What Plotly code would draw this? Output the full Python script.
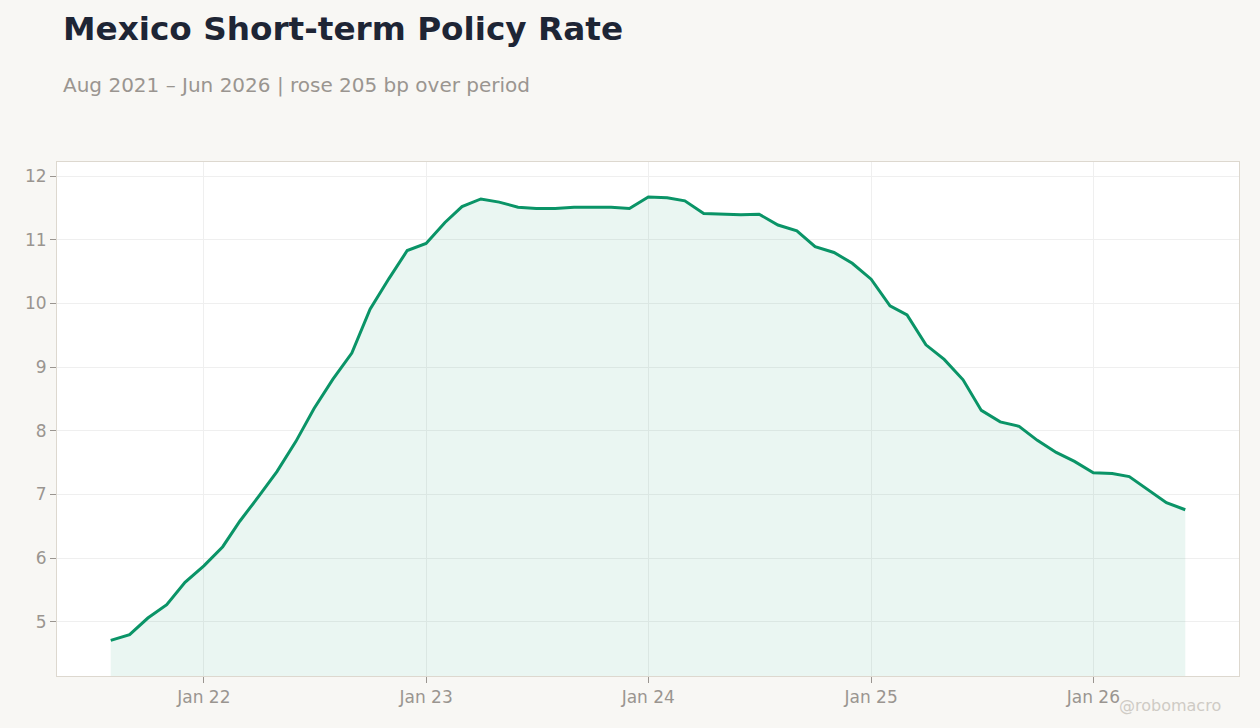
import pandas as pd
import plotly.graph_objects as go

# Monthly policy rate, Aug 2021 - Jun 2026
months = pd.date_range("2021-08-01", "2026-06-01", freq="MS")
rate = [
    4.71, 4.80, 5.06, 5.27, 5.62,                     # 2021
    5.88, 6.18, 6.58, 6.97, 7.36, 7.83, 8.35, 8.81, 9.22, 9.91, 10.39, 10.83,  # 2022
    10.94, 11.27, 11.52, 11.64, 11.59, 11.51, 11.49, 11.49, 11.51, 11.51, 11.51, 11.49,  # 2023
    11.67, 11.66, 11.61, 11.41, 11.40, 11.39, 11.40, 11.23, 11.14, 10.89, 10.80, 10.63,  # 2024
    10.38, 9.96, 9.82, 9.35, 9.12, 8.80, 8.32, 8.14, 8.07, 7.85, 7.66, 7.52,  # 2025
    7.34, 7.33, 7.28, 7.07, 6.87, 6.76,               # 2026
]
tick_vals = pd.to_datetime(["2022-01-01", "2023-01-01", "2024-01-01", "2025-01-01", "2026-01-01"])
tick_text = ["Jan 22", "Jan 23", "Jan 24", "Jan 25", "Jan 26"]

title = "Mexico Short-term Policy Rate"
bp = round((rate[-1] - rate[0]) * 100)
subtitle = f"Aug 2021 – Jun 2026 | {'rose' if bp >= 0 else 'fell'} {abs(bp)} bp over period"

GREEN = "#0a9467"
GREY = "#9a9590"

fig = go.Figure()
fig.add_trace(go.Scatter(
    x=months, y=rate,
    mode="lines",
    line=dict(color=GREEN, width=3),
    fill="tozeroy",
    fillcolor="rgba(10,148,103,0.085)",
    hoverinfo="x+y",
))

span = months[-1] - months[0]
axis_style = dict(
    ticks="outside", ticklen=6, tickcolor=GREY,
    tickfont=dict(size=17, color=GREY),
    showgrid=True, gridcolor="#efefef", gridwidth=1,
    showline=True, linecolor="#ddd8cf", mirror=True,
    zeroline=False,
)
fig.update_xaxes(
    range=[months[0] - span * 0.05, months[-1] + span * 0.05],
    tickvals=tick_vals, ticktext=tick_text,
    **axis_style,
)
fig.update_yaxes(
    range=[4.15, 12.22],
    tickvals=[5, 6, 7, 8, 9, 10, 11, 12],
    **axis_style,
)

# page geometry (pixels)
H, W, T, B, L, R = 728, 1260, 162, 52, 57, 21
ph = H - T - B
pw = W - L - R

fig.update_layout(
    width=W, height=H,
    paper_bgcolor="#f8f7f4",
    plot_bgcolor="#ffffff",
    font=dict(family="DejaVu Sans", color=GREY),
    margin=dict(l=L, r=R, t=T, b=B),
    showlegend=False,
)

# header texts and watermark, placed in pixel terms
fig.add_annotation(text=f"<b>{title}</b>", xref="paper", yref="paper",
                   x=(61 - L) / pw, y=(H - B - 29) / ph, xanchor="left", yanchor="middle",
                   font=dict(size=32.7, color="#1e2535"), showarrow=False)
fig.add_annotation(text=subtitle, xref="paper", yref="paper",
                   x=(61 - L) / pw, y=(H - B - 85) / ph, xanchor="left", yanchor="middle",
                   font=dict(size=20, color=GREY), showarrow=False)
fig.add_annotation(text="@robomacro", xref="paper", yref="paper",
                   x=(1223 - L) / pw, y=(H - B - 705) / ph, xanchor="right", yanchor="middle",
                   font=dict(size=16, color="#cfcbc5"), showarrow=False)

fig.write_html("out.html", config={"displayModeBar": False},
               post_script="document.body.style.margin='0';")
